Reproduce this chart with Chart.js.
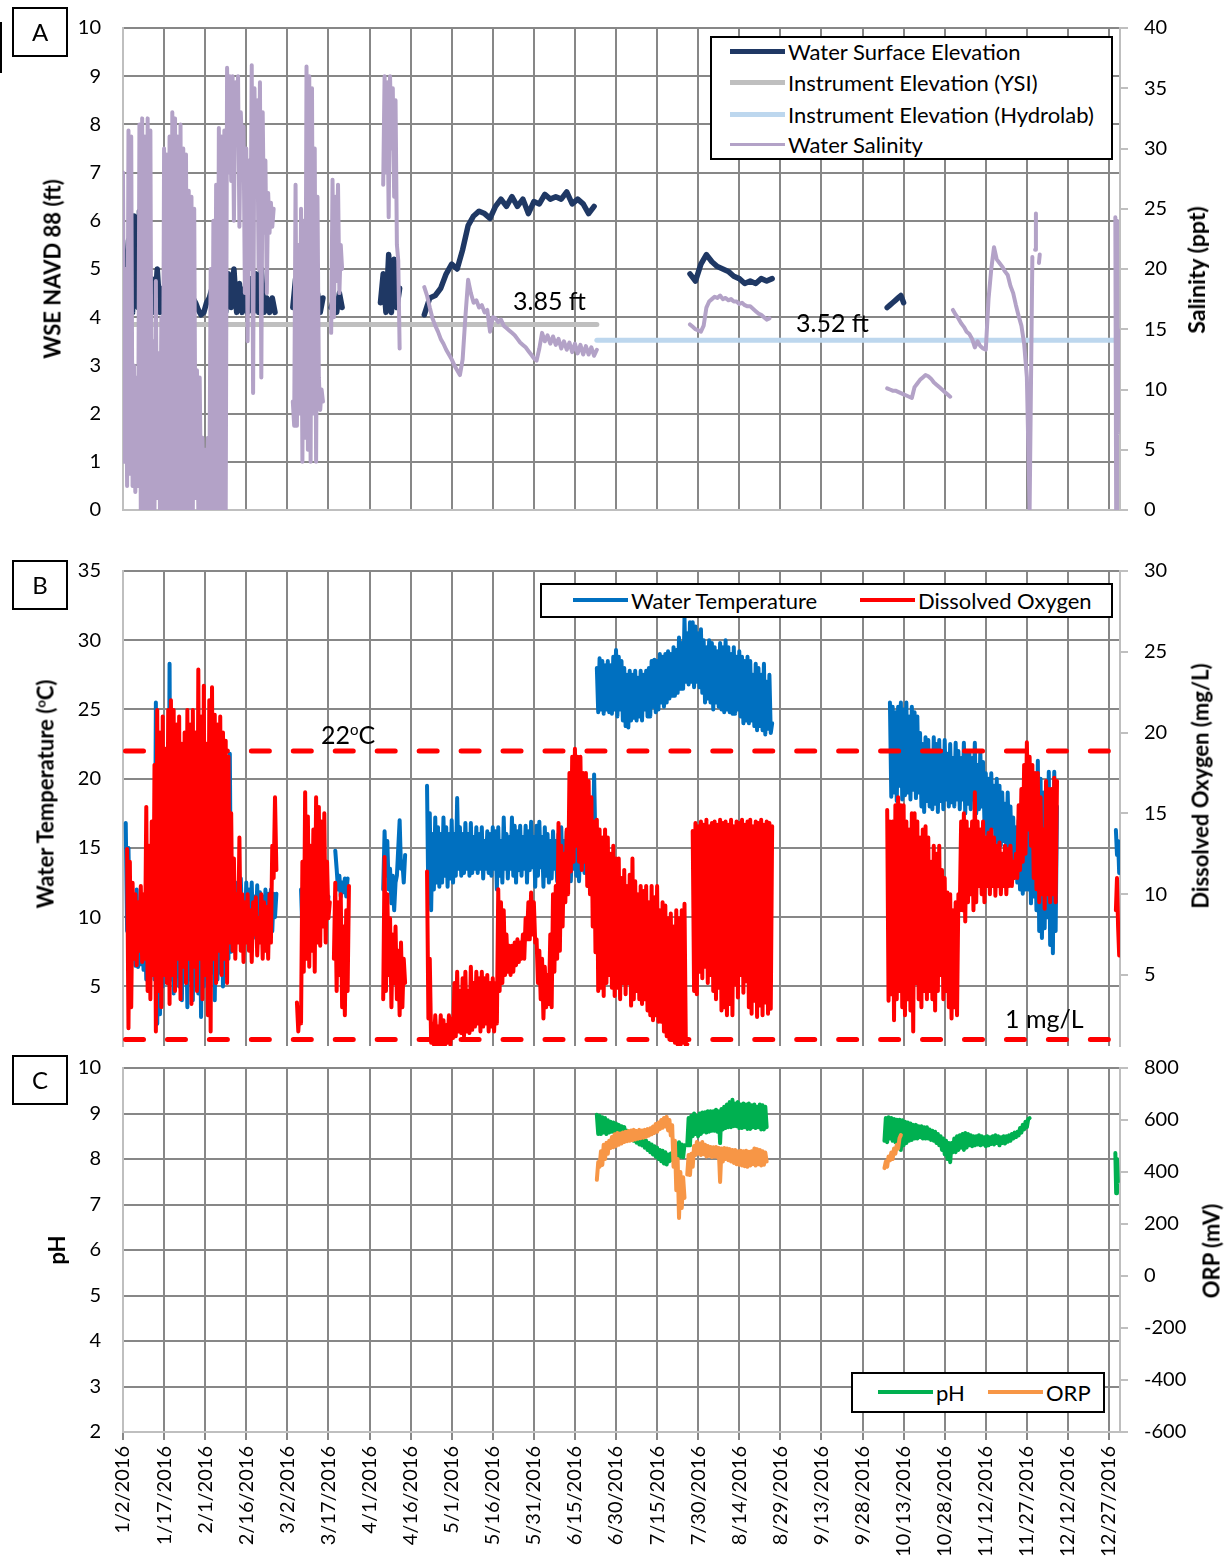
<!DOCTYPE html>
<html>
<head>
<meta charset="utf-8">
<title>Water quality record 2016</title>
<script src="https://cdn.jsdelivr.net/npm/chart.js@4.4.1/dist/chart.umd.min.js"></script>
<style>
body { margin: 0; background: #fff; }
#page { position: relative; width: 1230px; height: 1565px; overflow: hidden; font-family: Lato, sans-serif; color: #000; }
#page canvas { position: absolute; left: 0; }
.tag { position: absolute; width: 56px; height: 50px; box-sizing: border-box; border: 2px solid #000; font-size: 24px; line-height: 46px; text-align: center; }
.ytitle { position: absolute; font-size: 22px; font-weight: bold; white-space: nowrap; transform: translate(-50%, -50%) rotate(-90deg); }
.note { position: absolute; font-size: 25px; line-height: 25px; white-space: nowrap; }
.legend { position: absolute; box-sizing: border-box; border: 2px solid #000; background: #fff; }
.key { position: absolute; height: 30px; display: flex; align-items: center; font-size: 22px; white-space: nowrap; }
.key i { display: block; width: 55px; margin-right: 3px; }
sup { font-size: 0.6em; line-height: 0; }
</style>
</head>
<body>
<div id="page">
  <canvas id="chartA" width="1230" height="530" style="top:0px"></canvas>
  <canvas id="chartB" width="1230" height="540" style="top:520px"></canvas>
  <canvas id="chartC" width="1230" height="515" style="top:1050px"></canvas>

  <div class="tag" style="left:-54px;top:22px;height:51px"></div>
  <div class="tag" style="left:12px;top:7px">A</div>
  <div class="tag" style="left:12px;top:560px">B</div>
  <div class="tag" style="left:12px;top:1055px">C</div>

  <div class="ytitle" style="left:52px;top:269px">WSE NAVD 88 (ft)</div>
  <div class="ytitle" style="left:1196px;top:270px;font-size:23px">Salinity (ppt)</div>
  <div class="ytitle" style="left:45px;top:794px">Water Temperature (<sup>o</sup>C)</div>
  <div class="ytitle" style="left:1200px;top:786px">Dissolved Oxygen (mg/L)</div>
  <div class="ytitle" style="left:56px;top:1250px">pH</div>
  <div class="ytitle" style="left:1211px;top:1251px">ORP (mV)</div>

  <div class="note" style="left:513px;top:288px">3.85 ft</div>
  <div class="note" style="left:796px;top:310px">3.52 ft</div>
  <div class="note" style="left:321px;top:722px">22<sup>o</sup>C</div>
  <div class="note" style="left:1005px;top:1006px">1 mg/L</div>

  <div class="legend" style="left:710px;top:36px;width:403px;height:124px"></div>
  <div class="key" style="left:730px;top:36px"><i style="height:5px;background:#1f3864"></i>Water Surface Elevation</div>
  <div class="key" style="left:730px;top:67px"><i style="height:5px;background:#bfbfbf"></i>Instrument Elevation (YSI)</div>
  <div class="key" style="left:730px;top:99px"><i style="height:5px;background:#bdd7ee"></i>Instrument Elevation (Hydrolab)</div>
  <div class="key" style="left:730px;top:129px"><i style="height:3px;background:#b3a2c7"></i>Water Salinity</div>

  <div class="legend" style="left:540px;top:583px;width:573px;height:35px"></div>
  <div class="key" style="left:573px;top:585px"><i style="height:4px;background:#0070c0"></i>Water Temperature</div>
  <div class="key" style="left:860px;top:585px"><i style="height:4px;background:#ff0000"></i>Dissolved Oxygen</div>

  <div class="legend" style="left:851px;top:1372px;width:254px;height:41px"></div>
  <div class="key" style="left:878px;top:1377px"><i style="height:4px;background:#00b050"></i>pH</div>
  <div class="key" style="left:988px;top:1377px"><i style="height:4px;background:#f79646"></i>ORP</div>
</div>

<script>
// x axis: days after 1/2/2016
const xTickDays = [0,15,30,45,60,75,90,105,120,135,150,165,180,195,210,225,240,255,270,285,300,315,330,345,360];
const xTickLabels = ["1/2/2016","1/17/2016","2/1/2016","2/16/2016","3/2/2016","3/17/2016","4/1/2016","4/16/2016",
  "5/1/2016","5/16/2016","5/31/2016","6/15/2016","6/30/2016","7/15/2016","7/30/2016","8/14/2016","8/29/2016",
  "9/13/2016","9/28/2016","10/13/2016","10/28/2016","11/12/2016","11/27/2016","12/12/2016","12/27/2016"];

const wseTicks = [0,1,2,3,4,5,6,7,8,9,10];
const salTicks = [0,5,10,15,20,25,30,35,40];
const tempTicks = [5,10,15,20,25,30,35];
const doTicks = [5,10,15,20,25,30];
const phTicks = [2,3,4,5,6,7,8,9,10];
const orpTicks = [-600,-400,-200,0,200,400,600,800];

// each segment: [first day, day step, values]
const wseSegs = [
  [1, 0.5, [4.3,5.2,5.6,4.2,5.8,4.1,6.1,4.3,6.0,4.2,6.2,4.1,5.5]],
  [7.5, 1, [4.1,5.0,4.1,4.8, 4.1,5.0,4.1,4.6,4.1,4.7,4.1,4.5,4.1,4.6,
          4.2,4.5,4.1,4.5,4.4,4.3,4.15,4.05,4.1,4.3, 4.4,4.6,4.3,5.0,4.2,4.8,4.1,4.9,4.2,5.0,
          4.1,4.7,4.1,4.6,4.1,4.8,4.1,4.9,4.1,5.0, 4.1,4.4,4.1,4.4,4.1]],
  [62, 1, [4.2,4.8,4.1,5.0,4.1,5.4,4.1,4.9,4.1,4.5,4.1,4.4]],
  [76, 1, [4.2,4.4,4.1,4.5,4.2]],
  [94, 1, [4.3,4.9,4.1,5.3,4.1,5.2,4.2,4.6]],
  [110, 2, [4.05,4.4,4.45,4.6,4.9,5.1,5.0,5.4,5.9,6.1,6.2,6.15,6.05,6.3,6.45,6.3,
            6.5,6.3,6.45,6.15,6.4,6.35,6.55,6.45,6.5,6.45,6.6,6.35,6.45,6.35,6.15,6.3]],
  [207, 2, [4.9,4.75,5.1,5.3,5.15,5.05,5.0,4.95,4.85,4.8,4.7,4.75,4.7,4.8,4.75,4.8]],
  [279, 1, [4.2,4.25,4.3,4.35,4.4,4.45,4.3]]
];
const ysiSegs = [[0, 173, [3.85, 3.85]]];
const hydrolabSegs = [[173, 191, [3.52, 3.52]]];

const salinitySegs = [
  [0, 0.5, [28,4,20,2,31.5,3,31,2,12,1.5, 11,2,32,0,32.5,0,31,0,32.5,0,
            31.5,0,14,0,19,1,13,0,16,0, 30,0,29.5,0,31,0,33,0,32.5,0,
            31,0,32,0,30,0,29.5,0,26.5,0, 26,0,25,1,11.6,0,11,0,6,0,
            5,0,6,0,20,0,24,0,27,0, 31.7,0,31,0,31.5,0,36.7,28,36,27.3,
            36,24,35.5,31,36,23.5,33,30,31.8,18, 30,14,29,20,36.9,9.7,35,26,34,20,
            35.5,11,33,23,29,18,26.3,23,25.5,23.5, 25]],
  [62, 0.5, [9,7,27,7,22,8,25,4,24,6, 36.8,5,36,4,35,8,30,4,26,11, 8.3,10,9]],
  [76, 0.5, [14.7,27.4,16,26,19,27,18,22,20]],
  [95, 0.5, [27,36,28,35.5,24.3,36,30,35,26,34,22,20.7,13.4]],
  [110, 1, [18.5,17.8,16.8,15.9,15.3,14.8,14.2,13.8,13.3,12.9, 12.5,12.0,11.6,11.2,12.5,16.0,19.1,18.0,17.2,17.4,
            16.8,17.0,16.4,16.6,14.8,16.0,15.9,15.6,15.8,15.3, 15.1,14.9,14.7,14.5,14.2,13.9,13.7,13.5,13.2,12.9,
            12.6,12.4,13.4,14.7,14.0,14.5,13.8,14.4,13.7,14.2, 13.4,14.0,13.3,13.9,13.1,13.8,13.0,13.7,12.9,13.6,
            12.9,13.5,12.8,13.3]],
  [207, 1, [15.4,15.2,15.0,14.9,14.8,15.3,16.8,17.3,17.5,17.7, 17.6,17.8,17.5,17.6,17.4,17.5,17.3,17.3,17.1,17.2,
            17.0,16.9,16.9,16.7,16.5,16.3,16.2,16.0,15.8,15.9]],
  [279, 1, [10.1,10.0,9.9,9.9,9.8,9.7,9.6,9.5,9.4,9.3, 10.2,10.5,10.8,11.0,11.2,11.1,10.9,10.6,10.4,10.2, 10.0,9.8,9.6,9.4]],
  [303, 1, [16.6,16.2,15.9,15.5,15.2,14.8,14.6,14.2,13.5,14.0, 13.6,13.4,13.3,17.5,20.0,21.8,20.8,20.5,20.2,19.8,
            19.5,18.6,18.0,17.0,16.1,15.3,13.8,11.0,0,21]],
  [333, 0.3, [21.6,24.6]],
  [334.4, 0.3, [20.5,21.2]],
  [362.3, 0.3, [24.3,0,24,6.4,14.9]]
];

const tempSegs = [
  [1, 0.5, [16.8,9,15,8.8,12,7,11,6.5,12,6.4, 10,6.6,9.5,6.2,10,5.5,9,6.5,10,6.2,
            9.5,5.5,25.5,2.3,12,3,11,5,13,7, 14,6,28.3,5.5,12,4.5,11,6,12.5,5,
            10,4,11.5,6,10,3.5,12,5.5,11,4, 12.5,6,10.5,4.5,13,2.8,11,5,14,5.5,
            12,4.5,17,6,13,4,12,5.5,14,6, 12,5,13.5,6.5,12,7,21.8,7.5,12,8.5,
            12.5,9,12,8.5,12.8,9.5,11.5,8.5,12.5,9, 12,9.5,12.5,8.5,11.5,9,12.3,8.6,11.8,9.2,
            11.5,8,12,9,11.7,8.5,12,9,11.7,10, 11.7]],
  [65, 0.5, [12,9,14,10,16.5,9.5,13,10,15,9, 12.5,10,14,9.5,13,11,12,9.5,11,10, 11.5]],
  [77.5, 0.5, [14.8,13.5,12,13,11.5,12.5,11.8,12.8,11.5,12.8]],
  [95, 0.5, [12,16.2,13,15.5,12,13.5,11,13,10.5,12.5, 13,15,17,13.5,14,12.5,14.5]],
  [111, 0.5, [19.5,11,17.5,10.5,16,12,17.2,12.5,16.5,12.2, 16,12.5,17.2,13,16.5,12.2,16,12.8,17,12.5,
              16,13,18.6,13.5,16.5,13,16,13.2,16.8,13.5, 16,13,16.8,13.2,15.8,13.5,16.5,13.2,16,13.5,
              16.5,12.8,15.5,13.5,16.2,13.2,16,13,16.5,13.5, 16.2,12,16.5,13,15.5,12.5,17.2,13.5,16,12.8,
              15.8,13.5,17.2,13,16.6,12.5,16.2,13.4,16.6,13, 15.8,13.5,16.6,12.5,16.2,13.4,16.9,13.6,15.8,12.2,
              16.6,13,16.9,13.6,15.8,12.2,16.5,13,16,12.5, 15.5,12.8,16.2,13.5,15.5,12.6,16,13.5,16.5,12.8,
              15.5,12.8,16.2,13.5,15.5,12.6,16,13.5,16.8,13, 15.5,12.6,16,13.5,16.5,13.2,16.2,13.5,17,14,
              16.5,14,20.3,15,16]],
  [173, 0.5, [28,24.8,28.7,25,28.5,24.7,28.2,25,28.5,24.8, 28.2,24.7,28.8,25,29.3,24.5,28.8,25,28.5,24.2,
              28,23.8,27.5,23.7,27.8,24.2,27.5,24.4,27.8,24.2, 27.3,24.5,27.8,24.2,27.5,25,27.8,24.5,28,24.5,
              28.5,25.2,28.6,24.8,28.5,25,29,25.5,28.8,25.2, 29,25.5,29.2,25.8,29,26,29.5,26,29.3,26.2,
              30.2,26.5,29.8,26.5,31.6,27,30.5,26.8,31.3,27, 31.3,26.6,31,27,30.5,26.6,30.8,26.2,30,25.5,
              29.5,25.8,30,25.5,29.8,25,29.5,25.5,29.2,25.2, 29.8,25,29.5,24.8,30,25,29.5,24.8,29,24.7,
              29.5,24.7,28.8,25,29.2,24.5,28.8,24,28.5,24.2, 28.8,24,28.5,24.2,27.5,23.8,28.3,23.5,28,23.8,
              27.5,23.5,28.3,23.2,27,23.6,27.5,23.3,24]],
  [280, 0.5, [25.5,18.7,25.2,19,24.8,18.4,25.2,19.5,25.5,18.5, 25,18.8,25.5,19,24.5,18.5,25.2,19.2,24.8,18.6,
              24.5,19,23.3,18,22.5,17.6,23,18.4,22.8,18, 22,17.8,23,18.2,22.5,17.6,22.8,18.4,22,17.8,
              22.8,18.5,21.8,18,22.5,18.3,21.5,18,22.6,18.5, 22,17.8,21.5,18.5,22.6,17.5,21.8,18.2,22,17.8,
              21.5,18.5,22.6,17.5,21,17.8,22,18,21.2,17, 20.4,16,20,15.8,20.4,16.5,19.5,15.5,20,15.2,
              19.5,15.2,19,15.5,18.2,14.8,19,15,18,14, 17.2,13,16.5,12.5,17,12,16.5,11.7,17.2,12,
              17,12,16.5,11,17,11.5,16.5,10.5,21.3,9, 20,8.5,19,9.2,18,10,20.5,8,19,7.4,
              20.5,9,18]],
  [362.5, 0.4, [16.3,14.5,15.5,13.2]]
];

const doSegs = [
  [1.5, 0.5, [12.8,1.7,12,3,10.7,6,10,5.6,9.5,6.5, 10.5,5.8,10,6,15.4,4,13,3.5,14.5,5,
              18,1.5,21.4,4,20,3,21,5,19,4.5, 21.4,3.2,22,5,21.4,4,20.5,6,21,3.5,
              19.3,5.5,20,4.5,21.4,6,20.5,3.2,21.4,5.5, 20,4,23.9,6,21,3.5,22.9,5,19.3,2.5,
              22,1.5,22.8,6,21.1,4.5,20.5,6.5,21,5, 20,6,19.5,4.5,18.5,7,15,6.5,12.2,6,
              10,7,13.5,6.5,10,5.8,9.5,7,10,6.5, 9,5.8,9.5,7.5,9.8,6.2,8.5,7,10,6,
              9.5,6.5,9.2,6,10,7,13,11,16,11.5]],
  [63.5, 0.5, [3.3,1.5,3,2,12,5.2,16.3,6,14.8,5.5, 13,6.5,14,5.2,16,7,15.4,6.8,14.5,8, 15,7,12,8.5,9.5]],
  [77, 0.5, [6,10.7,4,9.5,5,10,3,8,2.5,9,4,10.5]],
  [95, 0.5, [3.5,12.3,4,10,5,8.5,3,7.5,4.5,8,3.5,6.5,2.5,7,3,6,4.5]],
  [111, 0.5, [11.4,2.3,6,0.8,2.0,0.7,2.5,0.7,1.8,0.6, 2.5,0.7,2.2,0.6,1.9,0.8,2.5,0.7,2.3,1.1,
              4.5,1.2,5.2,1.5,4.0,1.4,4.8,1.2,5.2,1.5, 4.0,1.4,5.5,1.6,4.5,1.8,5.2,2.0,4.8,1.5,
              5.2,1.8,4.8,2.0,5.0,1.5,4.5,1.8,4.8,1.5, 4.5,2.0,10.3,4.0,9.5,4.5,9.0,5.0,7.5,5.2,
              6.8,5.0,6.8,5.2,7.0,5.6,7.2,5.8,7.0,6.0, 7.5,6.0,8.5,7.2,9.5,7.2,10.1,7.5,9.5,7.0,
              7.2,4.5,6.5,3.5,6.0,2.3,5.5,3.0,5.0,3.2, 7.5,3.0,10.0,5.2,10.5,6.0,14.4,6.5,13,8.0,
              12.5,9.5,14,10,17.5,11.4,18.5,12,19.0,13, 18.5,12,18.5,11.5,17.5,12,17.5,10.5,17,10,
              16,8,14.5,6.4,14.6,4.0,14,4.2,13.5,3.7, 14.0,4.5,13.5,5.0,12.5,4.2,13,3.7,12.2,4.2,
              12.2,3.5,11.0,4.5,11.5,3.8,10.5,4.5,11.2,3.1, 12.2,3.5,10.8,4.0,10.0,3.5,10.5,3.2,10.2,3.5,
              10.5,2.8,9.5,2.5,10.5,2.2,9.8,2.5,10.5,2.1, 9.0,2.1,9.5,1.5,9.3,1.2,8.5,1.0,8.8,1.0,
              8.0,0.8,9.0,0.7,8.5,0.6,9.0,0.8,9.4,0.6, 0.7]],
  [208, 0.5, [13.9,4.0,14.4,3.8,14.2,5.2,14.5,4.8,14.3,5.5, 14.6,4.5,14.2,5.0,14.4,4.0,14.5,3.5,14.3,4.2,
              14.6,2.8,14.4,3.0,14.5,2.5,14.3,3.2,14.6,2.5, 14.2,4.4,14.5,3.6,14.4,5.0,14.6,3.9,14.3,4.6,
              14.5,3.0,14.6,2.6,14.2,3.4,14.5,2.4,14.4,3.1, 14.6,2.5,14.3,3.3,14.5,2.6,14.4,2.9,14.2]],
  [279, 0.5, [15.2,3.4,14.5,3.8,14.5,2.2,15.5,3.5,16.0,4.0, 15.5,3.0,15.5,2.5,14.5,3.5,14.0,2.8,15.0,1.5,
              15.0,4.5,14.5,3.5,13.5,3.0,14.0,4.0,14.2,3.5, 13.5,4.0,12.0,3.5,13.0,2.8,12.5,4.0,13.0,5.0,
              11.5,3.5,11.0,4.0,10.1,3.0,10.0,2.3,9.0,3.0, 9.5,2.5,10.0,9.0,14.5,9.0,15.0,8.3,14.5,9.5,
              14.0,10.0,14.5,9.0,16.3,9.5,14.5,10.5,14.0,10.0, 14.5,9.5,13.5,10.5,13.8,10.0,14.0,10.5,13.5,9.9,
              13.0,10.5,13.2,10.0,12.5,10.5,13.0,10.0,12.8,10.5, 13.0,10.5,12.0,11.0,12.5,11.0,15.5,11.5,16.5,12.0,
              18.0,12.5,19.4,14.0,18.5,13.0,18.0,11.0,17.5,10.3, 17.5,9.5,16.0,10.0,14.0,9.1,17.0,10.0,16.5,9.5,
              16.5,10.0,17.2,9.5,17.0]],
  [362.5, 0.4, [9,11,8,6.2]]
];
const tempLimitSegs = [[0, 364, [22, 22]]];
const doLimitSegs = [[0, 364, [1, 1]]];

const phSegs = [
  [173, 0.5, [8.97,8.55,8.95,8.55,8.92,8.58,8.9,8.55,8.85,8.58, 8.82,8.6,8.8,8.58,8.78,8.6,8.75,8.6,8.72,8.6,
              8.7,8.5,8.62,8.46,8.58,8.42,8.55,8.4,8.52,8.36, 8.48,8.32,8.45,8.3,8.42,8.25,8.4,8.2,8.35,8.15,
              8.32,8.1,8.28,8.05,8.25,8.0,8.2,7.95,8.18,7.9, 8.15,7.88,8.1,7.95,8.12,7.98,8.15,8.02,8.2,8.04,
              8.37,8.05,8.32,8.04,8.3]],
  [206, 0.5, [8.3,8.9,8.3,8.95,8.5,9.0,8.55,8.95,8.5,9.0, 8.55,9.02,8.6,9.03,8.58,9.05,8.6,9.05,8.62,9.05,
              8.62,9.08,8.6,9.05,8.35,9.1,8.65,9.15,8.68,9.2, 8.7,9.25,8.7,9.3,8.72,9.22,8.72,9.25,8.68,9.2,
              8.68,9.22,8.7,9.2,8.66,9.22,8.66,9.18,8.7,9.2, 8.68,9.15,8.7,9.2,8.65,9.18,8.65,9.15,8.7]],
  [278, 0.5, [8.4,8.9,8.37,8.92,8.45,8.9,8.4,8.88,8.37,8.86, 8.3,8.86,8.2,8.85,8.3,8.82,8.35,8.8,8.4,8.78,
              8.42,8.75,8.45,8.75,8.45,8.72,8.48,8.72,8.45,8.7, 8.45,8.7,8.45,8.65,8.42,8.62,8.4,8.6,8.35,8.55,
              8.3,8.5,8.2,8.45,8.1,8.4,8.0,8.35,7.93,8.35, 8.15,8.45,8.15,8.5,8.2,8.52,8.25,8.55,8.2,8.57,
              8.25,8.55,8.3,8.52,8.28,8.5,8.3,8.5,8.32,8.52, 8.3,8.5,8.32,8.48,8.28,8.5,8.3,8.48,8.33,8.5,
              8.32,8.52,8.35,8.5,8.3,8.48,8.35,8.5,8.34,8.5, 8.38,8.52,8.4,8.55,8.45,8.58,8.48,8.6,8.52,8.68,
              8.58,8.75,8.65,8.82,8.7,8.88,8.9]],
  [362.3, 0.3, [8.13,7.25,8.0,7.5]]
];
const orpSegs = [
  [173, 0.5, [370,438,420,480,427,505,450,512,470,520, 492,535,495,545,500,550,505,548,510,552,
              515,555,518,558,520,560,522,562,525,558, 528,562,530,560,532,562,535,565,540,568,
              545,575,550,585,555,590,565,600,570,608, 575,612,560,600,540,580,420,520,330,450,
              223,400,262,380,300]],
  [206, 0.5, [390,465,388,470,420,500,465,515,470,510, 465,515,468,505,460,500,462,496,458,495,
              460,496,458,492,362,490,440,492,450,490, 445,488,440,485,435,485,430,480,428,482,
              425,480,422,482,420,478,425,480,430,490, 425,488,430,485,425,480,428,475,440]],
  [278, 0.5, [415,440,420,460,445,475,450,490,470,505,490,530,542]]
];

const gridGray = "#878787";
const axisGray = "#bfbfbf";
const tickFont = { family: "Lato", size: 20 };
Chart.defaults.font.family = "Lato";

function toPoints(segs) {
  const pts = [];
  segs.forEach(([start, step, vals], k) => {
    if (k > 0) pts.push({ x: start, y: null });
    vals.forEach((v, i) => pts.push({ x: start + i * step, y: v }));
  });
  return pts;
}

function series(segs, color, width, axis, order, dashed) {
  return {
    data: toPoints(segs),
    yAxisID: axis,
    borderColor: color,
    backgroundColor: color,
    borderWidth: width,
    order: order,
    pointRadius: 0,
    tension: 0,
    fill: false,
    spanGaps: false,
    borderJoinStyle: "round",
    borderCapStyle: "round",
    borderDash: dashed ? [18, 23.95] : [],
    borderDashOffset: dashed ? -2.5 : 0
  };
}

// keep the plot box exactly where the layout padding puts it
function noPad(s) {
  s.paddingTop = 0; s.paddingBottom = 0; s.paddingLeft = 0; s.paddingRight = 0;
}

function xAxis(withLabels, showBorder) {
  return {
    type: "linear", min: 0, max: 364,
    afterBuildTicks: s => { s.ticks = xTickDays.map(v => ({ value: v })); },
    afterFit: s => { s.height = withLabels ? 133 : 0; noPad(s); },
    grid: { color: gridGray, lineWidth: 2, drawTicks: withLabels, tickLength: 8 },
    border: { display: showBorder, color: axisGray, width: 2 },
    ticks: {
      display: withLabels, autoSkip: false, minRotation: 90, maxRotation: 90,
      padding: 6, color: "#000", font: tickFont,
      callback: (v, i) => xTickLabels[i]
    }
  };
}

function leftAxis(min, max, ticks) {
  return {
    type: "linear", position: "left", min: min, max: max,
    afterBuildTicks: s => { s.ticks = ticks.map(v => ({ value: v })); },
    afterFit: s => { s.width = 123; noPad(s); },
    grid: { color: gridGray, lineWidth: 2, drawTicks: false },
    border: { color: axisGray, width: 2 },
    ticks: { autoSkip: false, padding: 22, color: "#000", font: tickFont }
  };
}

function rightAxis(min, max, ticks) {
  return {
    type: "linear", position: "right", min: min, max: max,
    afterBuildTicks: s => { s.ticks = ticks.map(v => ({ value: v })); },
    afterFit: s => { s.width = 110; noPad(s); },
    grid: { drawOnChartArea: false, color: axisGray, lineWidth: 2, tickLength: 8 },
    border: { color: axisGray, width: 2 },
    ticks: { autoSkip: false, padding: 16, color: "#000", font: tickFont }
  };
}

function options(padTop, padBottom, scales) {
  return {
    responsive: false,
    animation: false,
    devicePixelRatio: 1,
    events: [],
    layout: { padding: { top: padTop, bottom: padBottom, left: 0, right: 0 } },
    plugins: { legend: { display: false }, tooltip: { enabled: false } },
    scales: scales
  };
}

new Chart(document.getElementById("chartA"), {
  type: "line",
  data: {
    datasets: [
      series(salinitySegs, "#b3a2c7", 4, "ySal", 0),
      series(wseSegs, "#1f3864", 5.5, "yWse", 1),
      series(ysiSegs, "#bfbfbf", 5, "yWse", 2),
      series(hydrolabSegs, "#bdd7ee", 5, "yWse", 2)
    ]
  },
  options: options(28, 20, {
    x: xAxis(false, true),
    yWse: leftAxis(0, 10, wseTicks),
    ySal: rightAxis(0, 40, salTicks)
  })
});

new Chart(document.getElementById("chartB"), {
  type: "line",
  data: {
    datasets: [
      series(tempLimitSegs, "#ff0000", 5, "yTemp", 0, true),
      series(doLimitSegs, "#ff0000", 5, "yDo", 0, true),
      series(doSegs, "#ff0000", 4, "yDo", 1),
      series(tempSegs, "#0070c0", 4, "yTemp", 2)
    ]
  },
  options: options(51, 14, {
    x: xAxis(false, false),
    yTemp: leftAxis(0.7, 35, tempTicks),
    yDo: rightAxis(0.6, 30, doTicks)
  })
});

new Chart(document.getElementById("chartC"), {
  type: "line",
  data: {
    datasets: [
      series(orpSegs, "#f79646", 4, "yOrp", 0),
      series(phSegs, "#00b050", 4, "yPh", 1)
    ]
  },
  options: options(18, 0, {
    x: xAxis(true, true),
    yPh: leftAxis(2, 10, phTicks),
    yOrp: rightAxis(-600, 800, orpTicks)
  })
});
</script>
</body>
</html>
